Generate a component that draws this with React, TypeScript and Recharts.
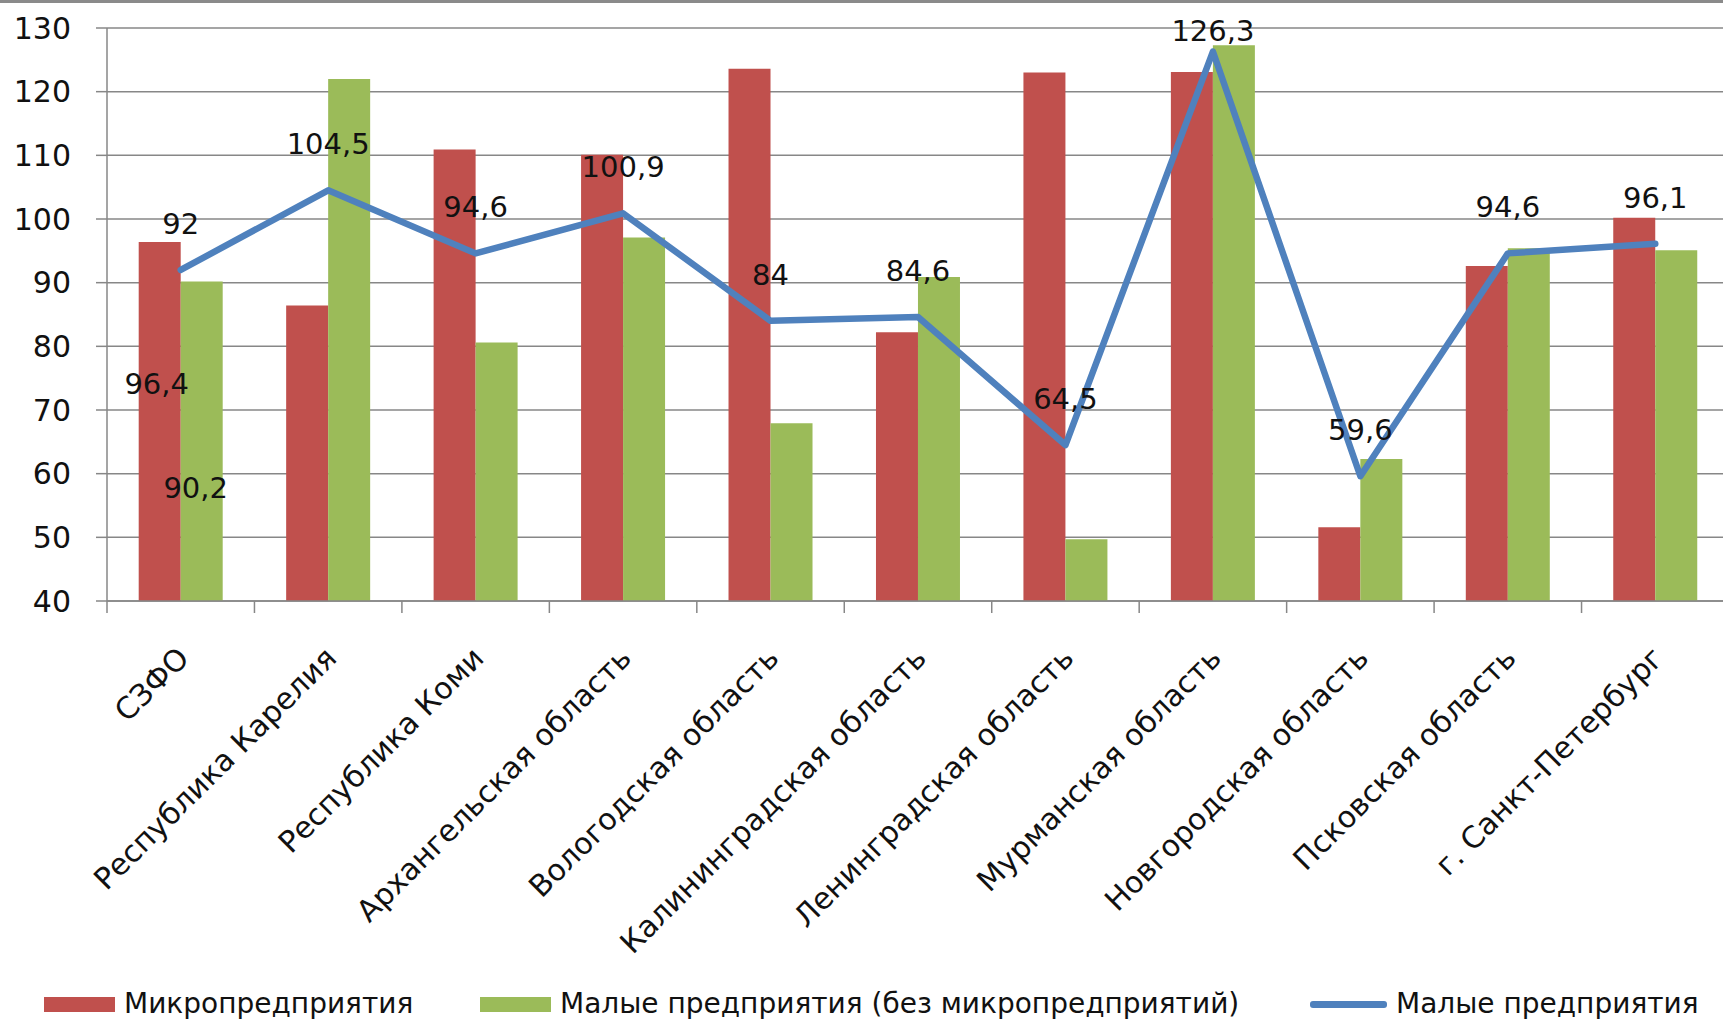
import { Bar, CartesianGrid, ComposedChart, LabelList, Line, XAxis, YAxis } from "recharts"

const regions = [
  "СЗФО",
  "Республика Карелия",
  "Республика Коми",
  "Архангельская область",
  "Вологодская область",
  "Калининградская область",
  "Ленинградская область",
  "Мурманская область",
  "Новгородская область",
  "Псковская область",
  "г. Санкт-Петербург",
]
const micro = [96.4, 86.4, 110.9, 110.1, 123.6, 82.2, 123, 123.1, 51.6, 92.6, 100.2]
const smallNoMicro = [90.2, 122, 80.6, 97.1, 67.9, 90.9, 49.7, 127.3, 62.3, 95.4, 95.1]
const small = [92, 104.5, 94.6, 100.9, 84, 84.6, 64.5, 126.3, 59.6, 94.6, 96.1]
const yTicks = [40, 50, 60, 70, 80, 90, 100, 110, 120, 130]

const seriesNames = ["Микропредприятия", "Малые предприятия (без микропредприятий)", "Малые предприятия"]
const RED = "#c0504d"
const GREEN = "#9bbb59"
const BLUE = "#4f81bd"
const GRID = "#878787"
const FONT = "'DejaVu Sans', Verdana, sans-serif"

const data = regions.map((name, i) => ({
  name,
  micro: micro[i],
  smallNoMicro: smallNoMicro[i],
  small: small[i],
}))

const W = 1730
const H = 1023
const Y_W = 107
const BAND = (W - 1 - Y_W) / regions.length

const fmt = (v: any) => String(v).replace(".", ",")

const RegionTick = (props: any) => {
  const { x, y, payload, index } = props
  const left = x - BAND / 2
  return (
    <g>
      <line x1={left} x2={left} y1={y} y2={y + 12} stroke={GRID} strokeWidth={1.5} />
      {index === regions.length - 1 && (
        <line x1={x + BAND / 2} x2={x + BAND / 2} y1={y} y2={y + 12} stroke={GRID} strokeWidth={1.5} />
      )}
      <text
        transform={`translate(${x + 10},${y + 59}) rotate(-45)`}
        textAnchor="end"
        fontSize={30}
        fontFamily={FONT}
        fill="#111"
      >
        {payload.value}
      </text>
    </g>
  )
}

const lineLabel = (props: any) => {
  const { x, y, value } = props
  return (
    <text x={x} y={Math.max(y - 46, 31)} textAnchor="middle" dominantBaseline="central" fontSize={29} fontFamily={FONT} fill="#111">
      {fmt(value)}
    </text>
  )
}

// only the first group of bars carries its own value labels
const firstBarLabel = (shift: number, dx: number) => (props: any) => {
  const { x, y, width, value, index } = props
  if (index !== 0) return null
  return (
    <text x={x + width / 2 + dx} y={y + shift} textAnchor="middle" dominantBaseline="central" fontSize={29} fontFamily={FONT} fill="#111">
      {fmt(value)}
    </text>
  )
}

const legendItems = [
  { name: seriesNames[0], color: RED, kind: "box" },
  { name: seriesNames[1], color: GREEN, kind: "box" },
  { name: seriesNames[2], color: BLUE, kind: "line" },
]
const legendLeft = [44, 480, 1310]

function ChartLegend() {
  return (
    <div style={{ position: "absolute", left: 0, top: 990, width: W, height: 30 }}>
      {legendItems.map((it, i) => (
        <div key={it.name} style={{ position: "absolute", left: legendLeft[i], top: 0, height: 28, display: "flex", alignItems: "center" }}>
          <div
            style={{
              width: it.kind === "box" ? 71 : 77,
              height: it.kind === "box" ? 15 : 7,
              background: it.color,
              borderRadius: it.kind === "line" ? 3 : 0,
              marginRight: 9,
            }}
          />
          <span style={{ fontFamily: FONT, fontSize: 28, color: "#111", whiteSpace: "nowrap", lineHeight: "28px" }}>{it.name}</span>
        </div>
      ))}
    </div>
  )
}

export default function App() {
  return (
    <div style={{ position: "fixed", left: 0, top: 0, width: 1723, height: 1023, overflow: "hidden", background: "#fff" }}>
      <div style={{ position: "absolute", left: 0, top: 0, width: 1723, height: 3, background: "#8a8a8a" }} />
      <ComposedChart
        width={W}
        height={H}
        data={data}
        margin={{ top: 28, right: 1, bottom: 0, left: 0 }}
        barCategoryGap="21.5%"
        barGap={0}
      >
        <CartesianGrid vertical={false} stroke={GRID} strokeWidth={1.5} />
        <YAxis
          width={Y_W}
          domain={[40, 130]}
          ticks={yTicks}
          allowDataOverflow
          interval={0}
          tickSize={11}
          tickMargin={25}
          axisLine={{ stroke: GRID, strokeWidth: 1.5 }}
          tickLine={{ stroke: GRID, strokeWidth: 1.5 }}
          tick={{ fontSize: 30, fontFamily: FONT, fill: "#111" }}
        />
        <XAxis
          dataKey="name"
          height={422}
          interval={0}
          tickSize={0}
          tickMargin={0}
          tickLine={false}
          axisLine={{ stroke: GRID, strokeWidth: 1.5 }}
          tick={<RegionTick />}
        />
        <Bar dataKey="micro" name={seriesNames[0]} fill={RED} isAnimationActive={false}>
          <LabelList dataKey="micro" content={firstBarLabel(142, -3)} />
        </Bar>
        <Bar dataKey="smallNoMicro" name={seriesNames[1]} fill={GREEN} isAnimationActive={false}>
          <LabelList dataKey="smallNoMicro" content={firstBarLabel(207, -6)} />
        </Bar>
        <Line
          type="linear"
          dataKey="small"
          name={seriesNames[2]}
          stroke={BLUE}
          strokeWidth={6.5}
          strokeLinejoin="round"
          strokeLinecap="round"
          dot={false}
          activeDot={false}
          isAnimationActive={false}
        >
          <LabelList dataKey="small" content={lineLabel} />
        </Line>
      </ComposedChart>
      <ChartLegend />
    </div>
  )
}
